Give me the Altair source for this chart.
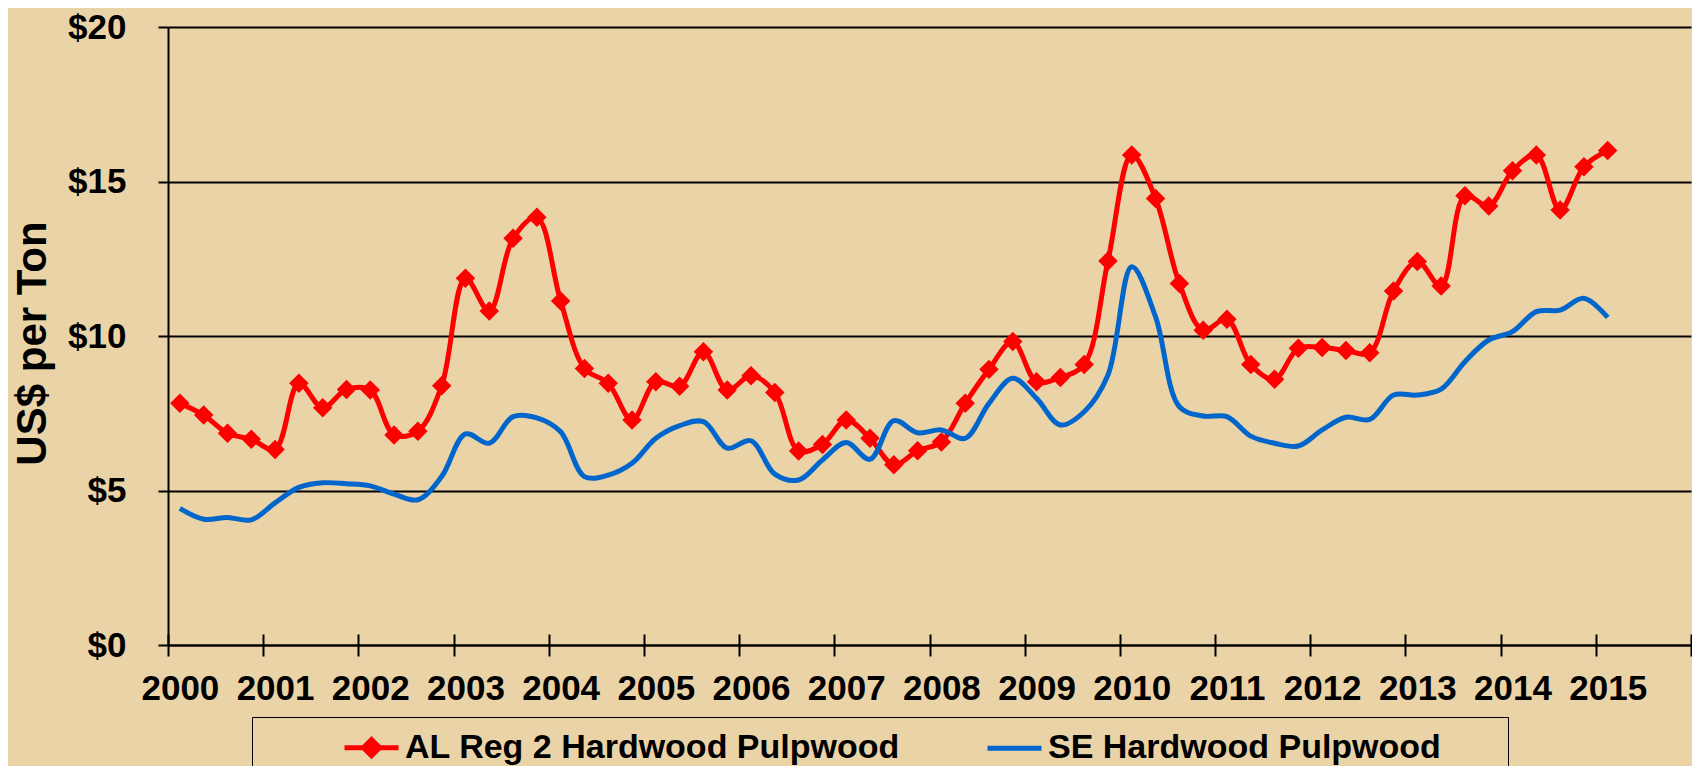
import altair as alt
import pandas as pd

red_name = "AL Reg 2 Hardwood Pulpwood"
blue_name = "SE Hardwood Pulpwood"

# quarterly values, 2000 Q1 .. 2015 Q1
red = [7.82, 7.44, 6.85, 6.66, 6.33, 8.47, 7.68, 8.27, 8.25, 6.80, 6.92, 8.39,
       11.87, 10.81, 13.16, 13.84, 11.13, 8.95, 8.47, 7.28, 8.52, 8.37, 9.49, 8.25,
       8.71, 8.17, 6.28, 6.49, 7.28, 6.69, 5.83, 6.29, 6.57, 7.82, 8.92, 9.82,
       8.52, 8.66, 9.08, 12.43, 15.86, 14.45, 11.70, 10.19, 10.54, 9.08, 8.60, 9.60,
       9.63, 9.53, 9.46, 11.46, 12.41, 11.62, 14.54, 14.21, 15.35, 15.86, 14.08, 15.48, 16.00]
blue = [4.42, 4.07, 4.13, 4.05, 4.60, 5.10, 5.25, 5.22, 5.15, 4.88, 4.70, 5.45,
        6.83, 6.53, 7.39, 7.35, 6.90, 5.45, 5.50, 5.88, 6.69, 7.10, 7.23, 6.37,
        6.61, 5.53, 5.34, 5.99, 6.55, 6.01, 7.26, 6.87, 6.96, 6.69, 7.82, 8.63,
        7.98, 7.12, 7.55, 8.74, 12.24, 10.62, 7.71, 7.41, 7.39, 6.76, 6.53, 6.44,
        6.96, 7.37, 7.30, 8.09, 8.09, 8.28, 9.17, 9.87, 10.14, 10.79, 10.84, 11.22, 10.60]
years = list(range(2000, 2016))
y_ticks = [0, 5, 10, 15, 20]
n_categories = 64  # 16 years x 4 quarters

rows = []
for i, v in enumerate(red):
    rows.append({"series": red_name, "q": i + 0.5, "price": v})
for i, v in enumerate(blue):
    rows.append({"series": blue_name, "q": i + 0.5, "price": v})
df = pd.DataFrame(rows)
legend_df = pd.DataFrame({"series": [red_name, blue_name], "q": [None, None], "price": [None, None]})

FONT = "Liberation Sans"
RED = "#FF0000"
BLUE = "#0066CC"
xscale = alt.Scale(domain=[0, n_categories], nice=False, zero=False)
yscale = alt.Scale(domain=[0, 20], nice=False)
cscale = alt.Scale(domain=[red_name, blue_name], range=[RED, BLUE])
red_path = "M-1,0L1,0M0,-0.3L0.3,0L0,0.3L-0.3,0ZM0,-0.12L0.12,0L0,0.12L-0.12,0Z"
blue_path = "M-1,0L1,0"
sscale = alt.Scale(domain=[red_name, blue_name], range=[red_path, blue_path])

label_values = [4 * k + 0.5 for k in range(len(years))]
tick_values = [4 * k for k in range(len(years) + 1)]

x_label_axis = alt.Axis(orient="bottom", values=label_values,
                        labelExpr="toString(2000 + floor(datum.value / 4))",
                        ticks=False, tickSize=0, grid=False, domain=True, domainColor="black",
                        domainWidth=2, labelFont=FONT, labelFontWeight="bold", labelFontSize=35,
                        labelColor="black", labelPadding=26, title=None, labelFlush=False,
                        labelOverlap=False)
x_tick_axis = alt.Axis(orient="bottom", values=tick_values, labels=False, ticks=True, tickSize=22,
                       tickWidth=2, tickColor="black", domain=False, grid=False, offset=-11,
                       title=None)
y_axis = alt.Axis(orient="left", values=y_ticks, labelExpr="'$' + datum.value", grid=True,
                  gridColor="black", gridWidth=2, tickSize=10, tickWidth=2, tickColor="black",
                  domainColor="black", domainWidth=2, labelFont=FONT, labelFontWeight="bold",
                  labelFontSize=35, labelColor="black", labelPadding=32, title="US$ per Ton",
                  titleFont=FONT, titleFontWeight="bold", titleFontSize=42, titleColor="black",
                  titleX=-123, titleY=316, titleBaseline="alphabetic", titleAngle=270)

# non-breaking spaces closed by a zero-width char so the padding is not trimmed
pad = "\u00A0" * 7 + "\u200B"
legend = alt.Legend(orient="none", legendX=84, legendY=690, direction="horizontal", columns=2,
                    columnPadding=77, padding=1, strokeColor="black",
                    title=" ", titleOrient="left", titleFontSize=2, titlePadding=89,
                    symbolSize=2916, symbolStrokeWidth=5, labelFont=FONT, labelFontWeight="bold",
                    labelFontSize=34, labelColor="black", labelOffset=4, labelLimit=0,
                    labelExpr="indexof(datum.label, 'SE') == 0 ? datum.label + '" + pad + "' : datum.label")

y_enc = alt.Y("price:Q", scale=yscale, axis=y_axis)

red_line = alt.Chart(df).transform_filter(alt.datum.series == red_name).mark_line(
    interpolate="catmull-rom", strokeWidth=5, color=RED).encode(
    x=alt.X("q:Q", scale=xscale, axis=x_label_axis),
    y=y_enc,
)
red_pts = alt.Chart(df).transform_filter(alt.datum.series == red_name).mark_point(
    shape="diamond", filled=True, size=380, opacity=1, color=RED).encode(
    x=alt.X("q:Q", scale=xscale, axis=x_tick_axis),
    y=y_enc,
)
blue_line = alt.Chart(df).transform_filter(alt.datum.series == blue_name).mark_line(
    interpolate="catmull-rom", strokeWidth=5, color=BLUE).encode(
    x=alt.X("q:Q", scale=xscale, axis=None),
    y=y_enc,
)
legend_layer = alt.Chart(legend_df).mark_point(filled=False, strokeWidth=5, opacity=1).encode(
    x=alt.X("q:Q", scale=xscale, axis=None),
    y=y_enc,
    color=alt.Color("series:N", scale=cscale, legend=legend),
    shape=alt.Shape("series:N", scale=sscale, legend=legend),
)

chart = alt.layer(red_line, red_pts, blue_line, legend_layer).resolve_axis(x="independent").properties(
    width=1523, height=618,
    autosize=alt.AutoSizeParams(type="none"),
    padding={"left": 160, "top": 19, "right": 1, "bottom": 121},
    background="#EBD3A8",
).configure_view(stroke=None)

chart.save("out.html", embed_options={"renderer": "svg", "actions": False})
